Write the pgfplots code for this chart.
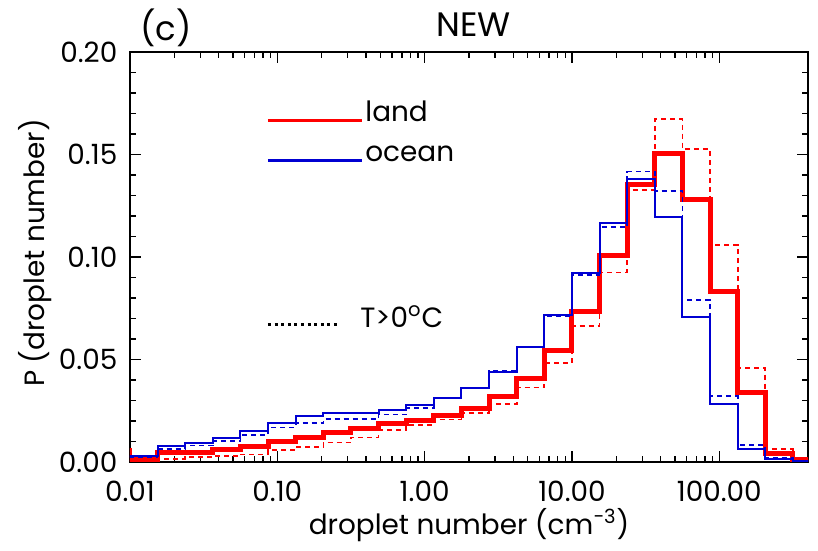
\documentclass[border=0pt]{standalone}
\usepackage{fontspec}
\setmainfont{Poppins}
\usepackage{pgfplots}
\usepackage{pgfplotstable}
\pgfplotsset{compat=1.18}
\definecolor{landred}{RGB}{255,0,0}
\definecolor{oceanblue}{RGB}{0,0,210}

% Histogram of droplet number: bins are equal in log10 (width 0.1875),
% first column is the left edge of each bin, the last row closes the last bin.
\pgfplotstableread{
edge       land     landwarm  ocean    oceanwarm
0.0064938  0.0057   0.0008    0.0030   0.0025
0.01       0.0012   0.0008    0.0030   0.0025
0.015399   0.0047   0.0013    0.0077   0.0063
0.023714   0.0047   0.0023    0.0094   0.0080
0.036517   0.0060   0.0028    0.0115   0.0103
0.056234   0.0078   0.0037    0.0151   0.0132
0.086596   0.0099   0.0057    0.0190   0.0168
0.133352   0.0120   0.0073    0.0225   0.0189
0.205353   0.0143   0.0095    0.0239   0.0209
0.316228   0.0165   0.0120    0.0240   0.0209
0.486968   0.0186   0.0155    0.0253   0.0232
0.749894   0.0200   0.0180    0.0277   0.0262
1.154782   0.0229   0.0207    0.0311   0.0311
1.778279   0.0259   0.0240    0.0360   0.0363
2.738420   0.0318   0.0284    0.0440   0.0445
4.216965   0.0407   0.0363    0.0560   0.0562
6.493816   0.0544   0.0482    0.0716   0.0712
10.0       0.0733   0.0665    0.0920   0.0912
15.39927   0.1005   0.0925    0.1168   0.1145
23.71374   0.1355   0.1327    0.1380   0.1417
36.51741   0.1507   0.1673    0.1197   0.1322
56.23413   0.1278   0.1526    0.0708   0.0790
86.59643   0.0830   0.1059    0.0285   0.0321
133.3521   0.0339   0.0459    0.0065   0.0082
205.3525   0.0043   0.0063    0.0013   0.0020
316.2278   0.0010   0.0011    0.0005   0.0006
486.9675   0.0010   0.0011    0.0005   0.0006
}\histdata

\begin{document}
\fontsize{14}{16}\selectfont
\begin{tikzpicture}
\begin{axis}[
  at={(0,0)}, anchor=south west,
  scale only axis, width=339bp, height=205bp,
  clip mode=individual,
  xmode=log, xmin=0.01, xmax=400,
  ymin=0, ymax=0.2,
  xtick={0.01,0.1,1,10,100},
  xticklabels={0.01,0.10,1.00,10.00,100.00},
  ytick={0,0.05,0.1,0.15,0.2},
  minor y tick num=4,
  scaled y ticks=false,
  /pgf/number format/assume math mode=true,
  y tick label style={xshift=-1.5bp, /pgf/number format/fixed, /pgf/number format/fixed zerofill, /pgf/number format/precision=2},
  x tick label style={yshift=-4.5bp},
  tick align=inside,
  major tick length=5.5bp, minor tick length=2.8bp,
  every tick/.style={black, line width=0.7bp},
  axis line style={line width=0.8bp},
  xlabel={droplet number (cm\textsuperscript{\textminus3})},
  ylabel={P (droplet number)},
  xlabel style={at={(axis description cs:0.5,-0.176)}, anchor=base},
  ylabel style={at={(axis description cs:-0.1401,0.51)}, anchor=center},
  const plot mark left,
  every axis plot/.append style={no marks},
]
\addplot[landred, line width=2.5bp] table[x=edge, y=land] {\histdata};
\addplot[landred, line width=0.85bp, dash pattern=on 2.5bp off 2bp] table[x=edge, y=landwarm] {\histdata};
\addplot[oceanblue, line width=1bp] table[x=edge, y=ocean] {\histdata};
\addplot[oceanblue, line width=0.85bp, dash pattern=on 2.5bp off 2bp] table[x=edge, y=oceanwarm] {\histdata};

% key
\draw[landred, line width=1.3bp] (rel axis cs:0.2035,0.8324) -- (rel axis cs:0.342,0.8324);
\node[anchor=base west, inner sep=0pt] at (rel axis cs:0.3466,0.8293) {land};
\draw[oceanblue, line width=1.3bp] (rel axis cs:0.2035,0.7349) -- (rel axis cs:0.342,0.7349);
\node[anchor=base west, inner sep=0pt] at (rel axis cs:0.3466,0.7324) {ocean};
\draw[black, line width=1.2bp, dash pattern=on 1.5bp off 1.8bp] (rel axis cs:0.2035,0.3358) -- (rel axis cs:0.3097,0.3358);
\node[anchor=base west, inner sep=0pt] at (rel axis cs:0.3392,0.329) {T>0\textsuperscript{o}C};

% panel tag and title
\node[anchor=center, inner sep=0pt, font=\fontsize{17}{19}\selectfont] at (axis description cs:0.053,1.06) {(c)};
\node[anchor=center, inner sep=0pt, font=\fontsize{17}{19}\selectfont] at (axis description cs:0.507,1.066) {NEW};
\end{axis}
\path[use as bounding box] (-65bp,-41.5bp) rectangle (344bp,231bp);
\end{tikzpicture}
\end{document}
